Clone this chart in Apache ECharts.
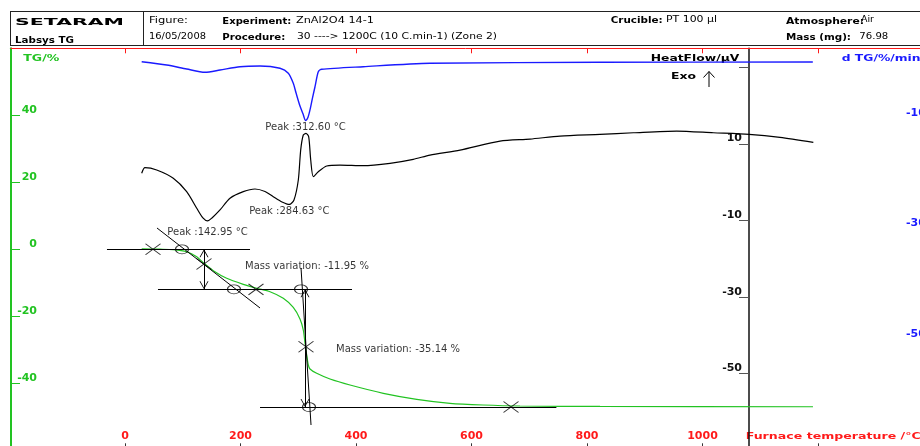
<!DOCTYPE html>
<html>
<head>
<meta charset="utf-8">
<script src="https://cdn.jsdelivr.net/npm/echarts@6/dist/echarts.min.js"></script>
<style>
  html, body { margin: 0; padding: 0; background: #fff; }
  #chart { width: 920px; height: 446px; }
</style>
</head>
<body>
<div id="chart"></div>
<script>
// ---- Measured data: furnace temperature (°C) vs signal ----
// TG mass change (%)
const tgTemp  = [28.9, 60.6, 83.6, 106.8, 124.2, 136.8, 152.9, 176.1, 204.8, 228.1, 251.1, 274.1, 291.4, 303.0, 308.7, 311.7, 314.6, 317.4, 320.3, 331.9, 355.0, 389.6, 447.3, 505.1, 562.8, 619.9, 684.0, 822.5, 1191.3];
const tgValue = [0.1, 0.03, -0.09, -0.72, -2.21, -4.18, -6.39, -8.66, -10.45, -11.64, -12.66, -14.63, -17.37, -20.81, -24.09, -27.97, -31.55, -34.54, -35.73, -37.01, -38.72, -40.51, -42.99, -44.78, -45.97, -46.48, -46.78, -46.9, -47.0];

// Heat flow (µV)
const hfTemp  = [28.9, 34.6, 54.9, 83.6, 106.8, 124.2, 134.9, 143.0, 150.6, 164.5, 181.8, 204.8, 225.1, 242.4, 256.8, 271.9, 284.6, 292.6, 300.1, 304.2, 308.7, 313.4, 318.1, 321.6, 326.1, 334.7, 349.3, 372.3, 412.6, 458.9, 499.2, 528.1, 580.1, 649.4, 701.3, 753.2, 822.5, 880.2, 955.3, 1018.7, 1080.5, 1134.2, 1191.9];
const hfValue = [2.35, 3.81, 3.21, 1.04, -2.45, -6.78, -9.31, -10.09, -9.31, -7.22, -4.17, -2.45, -1.75, -2.40, -3.76, -5.14, -5.79, -4.62, 0.60, 8.42, 12.34, 12.78, 11.89, 5.82, 1.46, 2.76, 4.25, 4.51, 4.33, 4.96, 6.00, 7.12, 8.42, 10.77, 11.29, 12.08, 12.52, 12.94, 13.38, 12.94, 12.52, 11.74, 10.43];

// Derivative of TG (%/min)
const dtgTemp  = [28.9, 72.2, 106.8, 138.5, 164.5, 199.1, 233.8, 268.4, 282.8, 291.4, 296.1, 303.0, 308.2, 312.6, 316.9, 320.3, 324.7, 329.0, 334.7, 340.6, 412.6, 528.0, 822.5, 1191.0];
const dtgValue = [-0.78, -1.37, -2.10, -2.69, -2.28, -1.68, -1.55, -1.97, -2.87, -4.68, -6.4, -8.8, -10.2, -11.4, -10.8, -9.5, -7.3, -5.3, -2.58, -2.15, -1.68, -1.07, -0.89, -0.83];

// Axis ticks and labels
const xTicks    = [0, 200, 400, 600, 800, 1000, 1200];
const xLabels   = [0, 200, 400, 600, 800, 1000];
const tgTicks   = [-40, -20, 0, 20, 40];
const hfTicks   = [30, 10, -10, -30, -50];
const hfLabels  = [10, -10, -30, -50];
const dtgLabels = [-10, -30, -50];

// Peak temperatures (°C) and mass-loss steps (%)
const peakTemps  = [312.60, 284.63, 142.95];
const massSteps  = [-11.95, -35.14];

// Step-analysis construction (°C, TG %)
const levelSpans   = [[-31.2, 216.5], [57.1, 393.1], [233.8, 747.0]];     // extent of each mass level line
const tangents     = [[[55.4, 6.36], [233.8, -17.52]], [[304.8, -5.58], [322.1, -52.45]]];
const arrowTemps   = [136.8, 311.7];
const circleMarks  = [[98.7, 0], [188.7, 1], [304.8, 1], [318.6, 2]];      // [°C, level index]
const levelCrosses = [[48.5, 0], [226.8, 1], [668.4, 2]];                  // [°C, level index]
const curveCrosses = [[136.8, -4.4], [313.4, -29.1]];                      // inflection points
const massLabelAt  = [[207.8, -4.99], [365.4, -29.76]];
const peakLabelAt  = [-12.58, -7.49, -12.96];   // dTG for first peak, heat flow for the others

// ---- Derived helpers ----
const pairs = (xs, ys) => xs.map((x, i) => [x, ys[i]]);
const levels = [0];
massSteps.forEach(s => levels.push(+(levels[levels.length - 1] + s).toFixed(2)));

const FONT = 'DejaVu Sans';
const RED = '#ff1a1a', GREEN = '#22c322', BLUE = '#1a1aff';

const ELLIPSE = 'path://M0,5 A5,5 0 1 1 10,5 A5,5 0 1 1 0,5 Z';
const CROSS = 'path://M0,0 L10,10 M10,0 L0,10';
const OPEN_ARROW = 'path://M5,0 L5.01,0 Z M0,16 L5,8 L10,16 L9,16 L5,9.6 L1,16 Z';

const constructionLines = [];
levelSpans.forEach((s, i) => constructionLines.push([{ coord: [s[0], levels[i]] }, { coord: [s[1], levels[i]] }]));
tangents.forEach(t => constructionLines.push([{ coord: t[0] }, { coord: t[1] }]));
arrowTemps.forEach((t, i) => constructionLines.push([
  { coord: [t, levels[i]], symbol: OPEN_ARROW, symbolSize: [9, 16] },
  { coord: [t, levels[i + 1]], symbol: OPEN_ARROW, symbolSize: [9, 16] }
]));

// ---- Header and axis titles ----
const measure = document.createElement('canvas').getContext('2d');
function fitText(str, x, y, opt) {
  const font = (opt.bold ? 'bold ' : 'normal ') + opt.size + 'px "' + FONT + '"';
  measure.font = font;
  const natural = measure.measureText(str).width;
  const sx = opt.scale || (opt.width ? opt.width / natural : 1);
  return {
    type: 'text', x: x, y: y, scaleX: sx, silent: true,
    style: { text: str, font: font, fill: opt.color || '#000', align: 'left', verticalAlign: 'middle' }
  };
}
function hLine(x1, y1, x2, y2, color, w) {
  return { type: 'line', silent: true, shape: { x1, y1, x2, y2 }, style: { stroke: color || '#000', lineWidth: w || 1 } };
}

measure.font = 'bold 9.5px "' + FONT + '"';
const titleScale = 88.6 / measure.measureText('HeatFlow/μV').width;

const graphics = [
  hLine(10, 11.5, 920, 11.5, '#222'),
  hLine(10, 45.5, 920, 45.5, '#222'),
  hLine(10.5, 11, 10.5, 46, '#222'),
  hLine(143.5, 11, 143.5, 46, '#222'),
  fitText('SETARAM', 15, 22.3, { bold: true, size: 9.2, width: 109 }),
  fitText('Labsys TG', 15, 40.3, { bold: true, size: 8.5, width: 59 }),
  fitText('Figure:', 149, 20.3, { size: 8.5, width: 39 }),
  fitText('16/05/2008', 149, 36.7, { size: 8.5, width: 57 }),
  fitText('Experiment:', 222.3, 21.4, { bold: true, size: 8.8, width: 69 }),
  fitText('ZnAl2O4 14-1', 296, 20.7, { size: 8.8, width: 78 }),
  fitText('Procedure:', 222.3, 37.7, { bold: true, size: 8.8, width: 63 }),
  fitText('30 ----> 1200C (10 C.min-1) (Zone 2)', 297, 37, { size: 8.8, width: 200 }),
  fitText('Crucible:', 610.7, 21, { bold: true, size: 8.8, width: 52 }),
  fitText('PT 100 µl', 666, 19.7, { size: 8.8, width: 51 }),
  fitText('Atmosphere:', 786, 21.5, { bold: true, size: 8.8, width: 78 }),
  fitText('Air', 861, 19.7, { size: 8.8, width: 13 }),
  fitText('Mass (mg):', 786, 37.5, { bold: true, size: 8.8, width: 65 }),
  fitText('76.98', 859.3, 36.5, { size: 8.8, width: 29 }),
  fitText('TG/%', 23.3, 58.3, { bold: true, size: 9.5, width: 36, color: GREEN }),
  fitText('HeatFlow/μV', 650.7, 58.3, { bold: true, size: 9.5, scale: titleScale }),
  fitText('Exo', 671, 76.7, { bold: true, size: 9.5, width: 25 }),
  fitText('d TG/%/min', 841.7, 58.3, { bold: true, size: 9.5, scale: titleScale, color: BLUE }),
  fitText('Furnace temperature /°C', 745.7, 436.7, { bold: true, size: 9.5, width: 175, color: RED }),
  // Exo direction arrow
  hLine(709, 71.5, 709, 87, '#000', 1),
  { type: 'polyline', silent: true, shape: { points: [[703.5, 77.5], [709, 71.5], [714.5, 77.5]] }, style: { stroke: '#000', lineWidth: 1, fill: null } }
];

// ---- Chart ----
const chart = echarts.init(document.getElementById('chart'), null, { renderer: 'canvas', width: 920, height: 446 });

const axisFont = { fontFamily: FONT, fontWeight: 'bold', fontSize: 11, lineHeight: 11, formatter: v => String(v) };
const xBase = { type: 'value', min: -197.4, max: 1376.6, splitLine: { show: false } };

const option = {
  animation: false,
  backgroundColor: '#fff',
  tooltip: { show: false },
  grid: { left: 11, top: 48.3, width: 909, height: 402, containLabel: false, outerBoundsMode: 'none' },
  xAxis: [
    Object.assign({}, xBase, {
      position: 'bottom',
      axisLine: { show: false, onZero: false },
      axisTick: { show: true, inside: true, length: 7, customValues: xTicks, lineStyle: { color: '#333' } },
      axisLabel: Object.assign({ inside: true, margin: 9, customValues: xLabels, color: RED }, axisFont)
    }),
    Object.assign({}, xBase, {
      position: 'top',
      axisLine: { show: true, onZero: false, lineStyle: { color: RED, width: 1 } },
      axisTick: { show: true, inside: true, length: 5, customValues: xTicks, lineStyle: { color: RED } },
      axisLabel: { show: false }
    })
  ],
  yAxis: [
    {
      type: 'value', min: -60, max: 60, interval: 20, position: 'left',
      splitLine: { show: false },
      axisLine: { show: true, onZero: false, lineStyle: { color: GREEN, width: 2 } },
      axisTick: { show: true, inside: true, length: 9, customValues: tgTicks, lineStyle: { color: GREEN } },
      axisLabel: Object.assign({ inside: true, margin: 26, align: 'right', verticalAlign: 'bottom', customValues: tgTicks, color: GREEN }, axisFont)
    },
    {
      type: 'value', min: -70, max: 35, position: 'left', offset: -738,
      splitLine: { show: false },
      axisLine: { show: true, onZero: false, lineStyle: { color: '#111', width: 1.5 } },
      axisTick: { show: true, length: 10, customValues: hfTicks, lineStyle: { color: '#555' } },
      axisLabel: Object.assign({ margin: 7, verticalAlign: 'bottom', customValues: hfLabels, color: '#111' }, axisFont)
    },
    {
      type: 'value', min: -71.02, max: 1.645, position: 'right', offset: -16,
      splitLine: { show: false },
      axisLine: { show: false, onZero: false },
      axisTick: { show: false },
      axisLabel: Object.assign({ margin: 2, customValues: dtgLabels, color: BLUE }, axisFont)
    }
  ],
  series: [
    {
      name: 'TG', type: 'line', xAxisIndex: 0, yAxisIndex: 0, z: 2, silent: true,
      data: pairs(tgTemp, tgValue), showSymbol: false, smooth: 0.25,
      lineStyle: { color: GREEN, width: 1.2 }
    },
    {
      name: 'HeatFlow', type: 'line', xAxisIndex: 0, yAxisIndex: 1, z: 3, silent: true,
      data: pairs(hfTemp, hfValue), showSymbol: false, smooth: 0.25,
      lineStyle: { color: '#000', width: 1.2 }
    },
    {
      name: 'dTG', type: 'line', xAxisIndex: 0, yAxisIndex: 2, z: 3, silent: true,
      data: pairs(dtgTemp, dtgValue), showSymbol: false, smooth: 0.25,
      lineStyle: { color: BLUE, width: 1.4 }
    },
    {
      name: 'Onset', type: 'scatter', xAxisIndex: 0, yAxisIndex: 0, z: 6, silent: true,
      data: circleMarks.map(c => [c[0], levels[c[1]]]),
      symbol: ELLIPSE, symbolSize: [13, 9],
      itemStyle: { color: 'rgba(0,0,0,0)', borderColor: '#000', borderWidth: 1 },
      markLine: {
        silent: true, symbol: 'none', label: { show: false }, emphasis: { disabled: true },
        lineStyle: { color: '#000', width: 1, type: 'solid' },
        data: constructionLines
      }
    },
    {
      name: 'Marks', type: 'scatter', xAxisIndex: 0, yAxisIndex: 0, z: 6, silent: true,
      data: levelCrosses.map(c => [c[0], levels[c[1]]]).concat(curveCrosses),
      symbol: CROSS, symbolSize: [15, 11],
      itemStyle: { color: 'rgba(0,0,0,0)', borderColor: '#000', borderWidth: 1 }
    },
    {
      name: 'Mass variation', type: 'scatter', xAxisIndex: 0, yAxisIndex: 0, z: 7, silent: true,
      symbolSize: 1, itemStyle: { color: 'rgba(0,0,0,0)' },
      data: massLabelAt.map((p, i) => ({ value: p, label: { formatter: 'Mass variation: ' + massSteps[i].toFixed(2) + ' %' } })),
      label: { show: true, position: 'inside', align: 'left', verticalAlign: 'middle', color: '#000', fontFamily: FONT, fontSize: 10 }
    },
    {
      name: 'Peak dTG', type: 'scatter', xAxisIndex: 0, yAxisIndex: 2, z: 7, silent: true,
      symbolSize: 1, itemStyle: { color: 'rgba(0,0,0,0)' },
      data: [{ value: [peakTemps[0], peakLabelAt[0]], label: { formatter: 'Peak :' + peakTemps[0].toFixed(2) + ' °C' } }],
      label: { show: true, position: 'inside', align: 'center', verticalAlign: 'middle', color: '#000', fontFamily: FONT, fontSize: 10 }
    },
    {
      name: 'Peak HF', type: 'scatter', xAxisIndex: 0, yAxisIndex: 1, z: 7, silent: true,
      symbolSize: 1, itemStyle: { color: 'rgba(0,0,0,0)' },
      data: [1, 2].map(i => ({ value: [peakTemps[i], peakLabelAt[i]], label: { formatter: 'Peak :' + peakTemps[i].toFixed(2) + ' °C' } })),
      label: { show: true, position: 'inside', align: 'center', verticalAlign: 'middle', color: '#000', fontFamily: FONT, fontSize: 10 }
    }
  ],
  graphic: { elements: graphics }
};

chart.setOption(option);
</script>
</body>
</html>
